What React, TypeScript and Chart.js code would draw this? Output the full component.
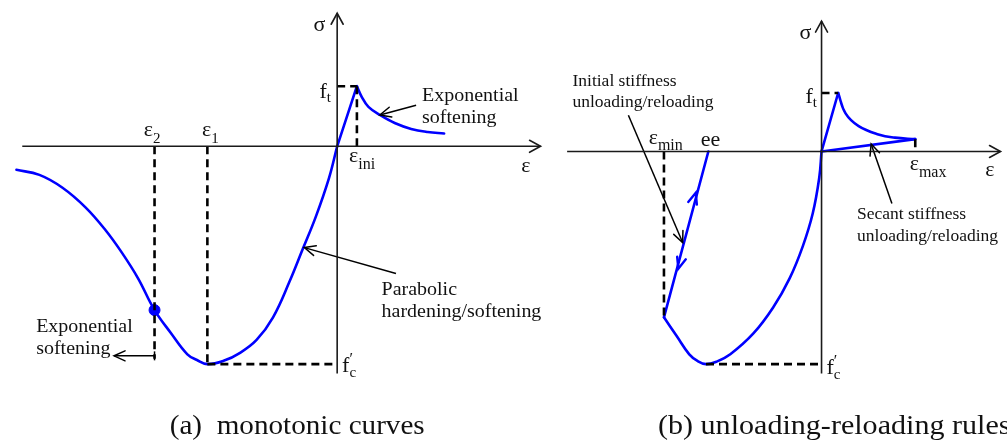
import React, { useEffect, useRef } from "react";
import { Chart, registerables } from "chart.js";

Chart.register(...registerables);

// ---------------- Panel (a): monotonic curves ----------------
// strain normalised by |ε1|, stress normalised by |f'c|
const aCompEps = [-2.471, -2.294, -2.116, -1.939, -1.787, -1.66, -1.534, -1.407, -1.28, -1.154, -1.08, -1.0, -0.875, -0.748, -0.621, -0.494, -0.367, -0.266, -0.165, -0.063, 0];
const aCompSig = [-0.108, -0.131, -0.19, -0.28, -0.383, -0.487, -0.606, -0.752, -0.858, -0.955, -0.981, -1.0, -0.985, -0.948, -0.889, -0.785, -0.621, -0.473, -0.324, -0.146, 0];
const aTensEps = [0, 0.152];
const aTensSig = [0, 0.276];
const aSoftEps = [0.152, 0.19, 0.241, 0.329, 0.443, 0.57, 0.697, 0.824];
const aSoftSig = [0.276, 0.226, 0.181, 0.144, 0.107, 0.08, 0.066, 0.059];
const aDotEps = [-1.407];
const aDotSig = [-0.752];
const aEps1 = -1.0;
const aEps2 = -1.407;
const aEpsIni = 0.152;
const aFt = 0.276;
const aFc = -1.0;

// ---------------- Panel (b): unloading-reloading rules ----------------
const bEnvEps = [-1.214, -1.116, -1.019, -0.956, -0.89, -0.804, -0.703, -0.525, -0.373, -0.246, -0.144, -0.068, -0.018, 0];
const bEnvSig = [-0.78, -0.868, -0.954, -0.985, -1.0, -0.987, -0.954, -0.856, -0.734, -0.597, -0.445, -0.292, -0.125, 0];
const bUnloadEps = [-1.214, -0.872];
const bUnloadSig = [-0.78, 0];
const bTensEps = [0, 0.128];
const bTensSig = [0, 0.275];
const bSoftEps = [0.128, 0.185, 0.286, 0.438, 0.565, 0.722];
const bSoftSig = [0.275, 0.179, 0.119, 0.08, 0.065, 0.058];
const bSecantEps = [0, 0.722];
const bSecantSig = [0, 0.058];
const bEpsMin = -1.214;
const bEe = -0.872;
const bEpsMax = 0.722;
const bEpsPeakC = -0.89;
const bFt = 0.275;
const bFc = -1.0;

const BLUE = "#0000ff";
const INK = "#111111";
const SERIF = '"Liberation Serif", "Times New Roman", "DejaVu Serif", serif';

type Run = { t: string; size: number; dy?: number; overlap?: boolean };
type Label = { p: "a" | "b"; x: number; y: number; runs: Run[]; stretch?: number };

const sym = (t: string): Run => ({ t, size: 22 });
const sub = (t: string, dy = 6, size = 15.5): Run => ({ t, size, dy });

const labels: Label[] = [
  // panel (a)
  { p: "a", x: -0.1825, y: 0.528, runs: [sym("σ")] },
  { p: "a", x: -0.137, y: 0.2207, runs: [sym("f"), sub("t", 3.5, 15)] },
  { p: "a", x: -1.49, y: 0.0468, runs: [sym("ε"), sub("2", 6.5, 15)] },
  { p: "a", x: -1.042, y: 0.0468, runs: [sym("ε"), sub("1", 6.5, 15)] },
  { p: "a", x: 0.0913, y: -0.0713, runs: [sym("ε"), sub("ini", 7, 16)] },
  { p: "a", x: 1.418, y: -0.118, runs: [sym("ε")] },
  { p: "a", x: 0.038, y: -1.0366, runs: [sym("f"), { t: "′", size: 16, dy: -8 }, { t: "c", size: 15, dy: 5, overlap: true }] },
  { p: "a", x: 0.654, y: 0.2073, runs: [{ t: "Exponential", size: 18.5 }], stretch: 1.08 },
  { p: "a", x: 0.654, y: 0.1092, runs: [{ t: "softening", size: 18.5 }], stretch: 1.08 },
  { p: "a", x: 0.342, y: -0.682, runs: [{ t: "Parabolic", size: 18.5 }], stretch: 1.08 },
  { p: "a", x: 0.342, y: -0.7824, runs: [{ t: "hardening/softening", size: 18.5 }], stretch: 1.08 },
  { p: "a", x: -2.319, y: -0.8515, runs: [{ t: "Exponential", size: 18.5 }], stretch: 1.08 },
  { p: "a", x: -2.319, y: -0.954, runs: [{ t: "softening", size: 18.5 }], stretch: 1.08 },
  { p: "a", x: -1.29, y: -1.3219, runs: [{ t: "(a)  monotonic curves", size: 26.5 }], stretch: 1.1 },
  // panel (b)
  { p: "b", x: -0.17, y: 0.5297, runs: [sym("σ")] },
  { p: "b", x: -0.1233, y: 0.2274, runs: [sym("f"), sub("t", 4, 15)] },
  { p: "b", x: 0.679, y: -0.0872, runs: [sym("ε"), sub("max", 6.5, 16)] },
  { p: "b", x: 1.261, y: -0.1174, runs: [sym("ε")] },
  { p: "b", x: -1.332, y: 0.0347, runs: [sym("ε"), sub("min", 5.5, 16)] },
  { p: "b", x: -0.931, y: 0.0274, runs: [{ t: "ee", size: 22 }] },
  { p: "b", x: 0.038, y: -1.0443, runs: [sym("f"), { t: "′", size: 16, dy: -8 }, { t: "c", size: 15, dy: 5, overlap: true }] },
  { p: "b", x: -1.919, y: 0.3087, runs: [{ t: "Initial stiffness", size: 17.5 }] },
  { p: "b", x: -1.919, y: 0.21, runs: [{ t: "unloading/reloading", size: 17.5 }] },
  { p: "b", x: 0.2738, y: -0.3196, runs: [{ t: "Secant stiffness", size: 17.5 }] },
  { p: "b", x: 0.2738, y: -0.4233, runs: [{ t: "unloading/reloading", size: 17.5 }] },
  { p: "b", x: -1.26, y: -1.3297, runs: [{ t: "(b) unloading-reloading rules", size: 26.5 }], stretch: 1.135 },
];

// blue direction arrows on the unloading/reloading branch
const midArrows = [
  { x: -0.969, y: -0.194, toX: bEe, toY: 0 },
  { x: -1.103, y: -0.551, toX: bEpsMin, toY: -0.78 },
];

const pts = (xs: number[], ys: number[]) => xs.map((x, i) => ({ x, y: ys[i] }));

function chevron(ctx: CanvasRenderingContext2D, x1: number, y1: number, x2: number, y2: number, len: number, half: number, color: string, width: number) {
  const dx = x2 - x1, dy = y2 - y1;
  const d = Math.hypot(dx, dy) || 1;
  const ux = dx / d, uy = dy / d;
  const nx = -uy, ny = ux;
  ctx.save();
  ctx.strokeStyle = color;
  ctx.lineWidth = width;
  ctx.lineJoin = "miter";
  ctx.lineCap = "round";
  ctx.beginPath();
  ctx.moveTo(x2 - ux * len + nx * half, y2 - uy * len + ny * half);
  ctx.lineTo(x2, y2);
  ctx.lineTo(x2 - ux * len - nx * half, y2 - uy * len - ny * half);
  ctx.stroke();
  ctx.restore();
}

function drawLabel(ctx: CanvasRenderingContext2D, px: number, py: number, runs: Run[], stretch = 1) {
  ctx.save();
  ctx.translate(px, py);
  ctx.scale(stretch, 1);
  ctx.fillStyle = INK;
  ctx.textAlign = "left";
  ctx.textBaseline = "alphabetic";
  let cursor = 0;
  let prevStart = 0;
  for (const r of runs) {
    ctx.font = `${r.size}px ${SERIF}`;
    const start = r.overlap ? prevStart : cursor;
    ctx.fillText(r.t, start, r.dy || 0);
    prevStart = start;
    cursor = Math.max(cursor, start + ctx.measureText(r.t).width);
  }
  ctx.restore();
}

const overlayPlugin = {
  id: "overlay",
  afterDatasetsDraw(chart: any) {
    const ctx: CanvasRenderingContext2D = chart.ctx;
    chart.data.datasets.forEach((ds: any, i: number) => {
      const el = chart.getDatasetMeta(i).data;
      if (ds.arrowHead && el.length >= 2) {
        const a = el[el.length - 2], b = el[el.length - 1];
        chevron(ctx, a.x, a.y, b.x, b.y, ds.arrowHead.len, ds.arrowHead.half, ds.borderColor, ds.borderWidth);
      }
      if (ds.tailBar && el.length >= 2) {
        const a = el[0], b = el[1];
        const dx = b.x - a.x, dy = b.y - a.y;
        const d = Math.hypot(dx, dy) || 1;
        const nx = -dy / d, ny = dx / d;
        ctx.save();
        ctx.strokeStyle = ds.borderColor;
        ctx.lineWidth = ds.borderWidth;
        ctx.beginPath();
        ctx.moveTo(a.x + nx * ds.tailBar, a.y + ny * ds.tailBar);
        ctx.lineTo(a.x - nx * ds.tailBar, a.y - ny * ds.tailBar);
        ctx.stroke();
        ctx.restore();
      }
    });
    const xb = chart.scales.xb, yb = chart.scales.yb;
    for (const m of midArrows) {
      const px = xb.getPixelForValue(m.x), py = yb.getPixelForValue(m.y);
      const tx = xb.getPixelForValue(m.toX), ty = yb.getPixelForValue(m.toY);
      const dx = tx - px, dy = ty - py;
      const d = Math.hypot(dx, dy) || 1;
      chevron(ctx, px - dx / d, py - dy / d, px, py, 11, 4.5, BLUE, 2.4);
    }
    for (const l of labels) {
      const sx = chart.scales[l.p === "a" ? "xa" : "xb"];
      const sy = chart.scales[l.p === "a" ? "ya" : "yb"];
      drawLabel(ctx, sx.getPixelForValue(l.x), sy.getPixelForValue(l.y), l.runs, l.stretch || 1);
    }
  },
};

function buildConfig(): any {
  const ax = (p: "a" | "b") => (p === "a" ? { xAxisID: "xa", yAxisID: "ya" } : { xAxisID: "xb", yAxisID: "yb" });
  const base = { pointRadius: 0, fill: false, tension: 0, borderCapStyle: "butt" };
  const axisLine = (p: "a" | "b", data: any[]) => ({ ...base, ...ax(p), data, borderColor: "#1a1a1a", borderWidth: 1.6, arrowHead: { len: 11, half: 6 } });
  const dashed = (p: "a" | "b", data: any[]) => ({ ...base, ...ax(p), data, borderColor: "#000000", borderWidth: 2.6, borderDash: [8, 5] });
  const curve = (p: "a" | "b", data: any[], smooth: boolean) => ({
    ...base, ...ax(p), data, borderColor: BLUE, borderWidth: 2.6,
    tension: smooth ? 0.4 : 0,
    borderJoinStyle: "round",
    borderCapStyle: "round",
  });
  const pointer = (p: "a" | "b", data: any[], extra: any = {}) => ({ ...base, ...ax(p), data, borderColor: "#000000", borderWidth: 1.5, arrowHead: { len: 11, half: 5 }, ...extra });

  const datasets = [
    // ---- panel (a)
    axisLine("a", [{ x: -2.426, y: 0 }, { x: 1.567, y: 0 }]),
    axisLine("a", [{ x: 0, y: -1.043 }, { x: 0, y: 0.611 }]),
    dashed("a", [{ x: aEps2, y: 0 }, { x: aEps2, y: -0.975 }]),
    dashed("a", [{ x: aEps1, y: 0 }, { x: aEps1, y: aFc }]),
    dashed("a", [{ x: aEps1, y: aFc }, { x: 0, y: aFc }]),
    dashed("a", [{ x: aEpsIni, y: aFt }, { x: aEpsIni, y: 0 }]),
    dashed("a", [{ x: 0, y: aFt }, { x: aEpsIni, y: aFt }]),
    curve("a", pts(aCompEps, aCompSig), true),
    curve("a", pts(aTensEps, aTensSig), false),
    curve("a", pts(aSoftEps, aSoftSig), true),
    { ...ax("a"), data: pts(aDotEps, aDotSig), showLine: false, pointRadius: 5.5, pointBackgroundColor: BLUE, pointBorderColor: BLUE, borderColor: BLUE },
    pointer("a", [{ x: 0.608, y: 0.1886 }, { x: 0.329, y: 0.144 }]),
    pointer("a", [{ x: 0.453, y: -0.584 }, { x: -0.253, y: -0.465 }]),
    pointer("a", [{ x: aEps2, y: -0.962 }, { x: -1.719, y: -0.962 }], { tailBar: 4.5 }),
    // ---- panel (b)
    axisLine("b", [{ x: -1.96, y: 0 }, { x: 1.379, y: 0 }]),
    axisLine("b", [{ x: 0, y: -1.044 }, { x: 0, y: 0.613 }]),
    dashed("b", [{ x: bEpsMin, y: 0 }, { x: bEpsMin, y: bUnloadSig[0] }]),
    dashed("b", [{ x: bEpsPeakC, y: bFc }, { x: 0, y: bFc }]),
    dashed("b", [{ x: 0, y: bFt }, { x: bTensEps[1], y: bFt }]),
    dashed("b", [{ x: bEpsMax, y: bSecantSig[1] }, { x: bEpsMax, y: 0 }]),
    curve("b", pts(bEnvEps, bEnvSig), true),
    curve("b", pts(bUnloadEps, bUnloadSig), false),
    curve("b", pts(bTensEps, bTensSig), false),
    curve("b", pts(bSoftEps, bSoftSig), true),
    curve("b", pts(bSecantEps, bSecantSig), false),
    pointer("b", [{ x: -1.488, y: 0.17 }, { x: -1.07, y: -0.428 }]),
    pointer("b", [{ x: 0.542, y: -0.245 }, { x: 0.382, y: 0.0347 }]),
  ];

  const lin = (axis: "x" | "y", min: number, max: number) => ({ type: "linear", axis, min, max, bounds: "data", grace: 0, display: false });

  return {
    type: "line",
    data: { datasets },
    options: {
      responsive: false,
      animation: false,
      events: [],
      layout: { padding: 0 },
      scales: {
        xa: lin("x", -2.5475, 5.1103),
        ya: lin("y", -1.3553, 0.642),
        xb: lin("x", -6.279, 1.3787),
        yb: lin("y", -1.3639, 0.6817),
      },
      plugins: { legend: { display: false }, tooltip: { enabled: false }, title: { display: false } },
    },
    plugins: [overlayPlugin],
  };
}

export default function App() {
  const ref = useRef<HTMLCanvasElement>(null);
  useEffect(() => {
    if (!ref.current) return;
    const chart = new Chart(ref.current, buildConfig());
    return () => chart.destroy();
  }, []);
  return (
    <div style={{ position: "absolute", left: 0, top: 0, width: 1007, height: 448, background: "#ffffff" }}>
      <canvas ref={ref} width={1007} height={448} style={{ display: "block" }} />
    </div>
  );
}
